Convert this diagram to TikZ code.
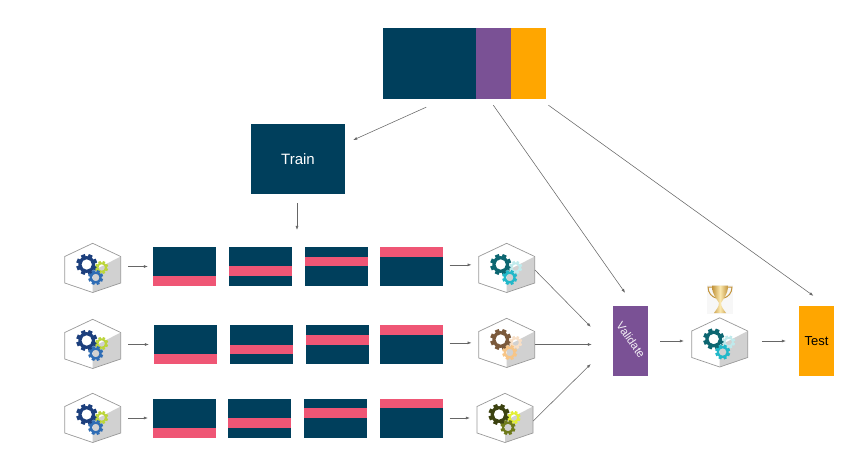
\documentclass[tikz,border=0pt]{standalone}
\usepackage{fontspec}
\setmainfont{Liberation Sans}
\usetikzlibrary{arrows.meta}
\definecolor{navy}{HTML}{003F5C}
\definecolor{plum}{HTML}{7A5195}
\definecolor{amber}{HTML}{FFA600}
\definecolor{rose}{HTML}{EF5675}
\definecolor{arrgray}{HTML}{666666}
\definecolor{gold}{HTML}{C2933A}
\definecolor{goldlight}{HTML}{FBE9B0}
\definecolor{gearnavy}{HTML}{1C3F7D}
\definecolor{gearlime}{HTML}{BCD53A}
\definecolor{gearblue}{HTML}{2F6DB5}
\definecolor{gearteal}{HTML}{0D6671}
\definecolor{gearpale}{HTML}{BFEAEC}
\definecolor{gearcyan}{HTML}{22B8C9}
\definecolor{gearbrown}{HTML}{7B5A3C}
\definecolor{gearcream}{HTML}{F8DFC6}
\definecolor{gearpeach}{HTML}{F7C587}
\definecolor{geardark}{HTML}{3C4210}
\definecolor{gearyellow}{HTML}{E3EF35}
\definecolor{gearolive}{HTML}{6E7A1B}
\newcommand{\gear}[4]{%
 \begin{scope}[shift={(#1,#2)}]
 \fill[#4,even odd rule] (0,0) circle[radius={.8*#3}] (0,0) circle[radius={.5*#3}];
 \foreach \a in {0,45,...,315} \fill[#4,rotate=\a+22] ({.7*#3},{-.2*#3}) rectangle ({#3},{.2*#3});
 \end{scope}}
\newcommand{\model}[6]{%
 \node[hexbox] (#1) at (#2,#3) {};
 \begin{scope}[shift={(#2,#3)}]
 \fill[white] (0,-24.7)--(28,-11.5)--(28,15)--(0,24.5)--(-28,15)--(-28,-11.5)--cycle;
 \fill[hexface] (28,-11.5)--(28,15)--(0,24.5)--(0,3)--cycle;
 \draw[hexedge] (0,-24.7)--(28,-11.5)--(28,15)--(0,24.5)--(-28,15)--(-28,-11.5)--cycle;
 \gear{-6}{-3.5}{10.5}{#4}
 \gear{9}{-.5}{6.5}{#5}
 \gear{3}{9.5}{7.5}{#6}
 \end{scope}}
\newcommand{\fold}[4]{%
 \node[foldbox] (#1) at (#2,#3) {};
 \fill[rose] (#2-31.5,{#3+9.75-9.75*#4}) rectangle (#2+31.5,{#3+19.5-9.75*#4});}
\begin{document}
\begin{tikzpicture}[x=1pt,y=-1pt,
 block/.style={draw=none,minimum width=#1,inner sep=0pt,text=white},
 foldbox/.style={fill=navy,minimum width=63pt,minimum height=39pt,inner sep=0pt},
 hexbox/.style={minimum width=56pt,minimum height=49pt,inner sep=0pt},
 hexface/.style={fill=black!18},
 hexedge/.style={draw=black!40,line width=.7pt},
 arr/.style={-{Latex[length=4pt,width=3pt]},draw=arrgray,line width=.55pt}]
\useasboundingbox (0,0) rectangle (857,465);
% whole data set
\node[block=93pt,minimum height=71pt,fill=navy] (dataTrain) at (429.5,63.5) {};
\node[block=35pt,minimum height=71pt,fill=plum] (dataVal) at (493.5,63.5) {};
\node[block=35pt,minimum height=71pt,fill=amber] (dataTest) at (528.5,63.5) {};
\node[block=94pt,minimum height=70pt,fill=navy,font=\fontsize{15}{18}\selectfont] (train) at (298,159) {Train};
\node[block=35pt,minimum height=70pt,fill=plum] (validate) at (630.5,341) {};
\node[rotate=-55,text=white!90!plum,font=\fontsize{11.5}{14}\selectfont] (validateText) at (631,340) {Validate};
\node[block=35pt,minimum height=70pt,fill=amber,text=black,font=\fontsize{13}{16}\selectfont] (test) at (816.5,341) {Test};
% folds
\fold{fa1}{184.5}{266.5}{0} \fold{fa2}{260.5}{266.5}{1} \fold{fa3}{336.5}{266.5}{2} \fold{fa4}{411.5}{266.5}{3}
\fold{fb1}{185.5}{344.5}{0} \fold{fb2}{261.5}{344.5}{1} \fold{fb3}{337.5}{344.5}{2} \fold{fb4}{411.5}{344.5}{3}
\fold{fc1}{184.5}{418}{0} \fold{fc2}{259.5}{418}{1} \fold{fc3}{335.5}{418}{2} \fold{fc4}{411.5}{418}{3}
% models
\model{ma}{92.7}{268}{gearnavy}{gearlime}{gearblue}
\model{mb}{92.7}{344}{gearnavy}{gearlime}{gearblue}
\model{mc}{92.7}{418}{gearnavy}{gearlime}{gearblue}
\model{ra}{506.7}{268}{gearteal}{gearpale}{gearcyan}
\model{rb}{506.7}{343}{gearbrown}{gearcream}{gearpeach}
\model{rc}{505}{418}{geardark}{gearyellow}{gearolive}
\model{best}{719.7}{342.5}{gearteal}{gearpale}{gearcyan}
% trophy
\node[minimum width=26pt,minimum height=29pt,inner sep=0pt,fill=black!3] (trophy) at (720,299.5) {};
\draw[gold,line width=1pt] (712,287)--(708,287) .. controls (708,293) and (712,297) .. (716,298);
\draw[gold,line width=1pt] (728,287)--(732,287) .. controls (732,293) and (728,297) .. (724,298);
\shade[left color=gold,right color=gold,middle color=goldlight] (712,285.5)--(728,285.5) .. controls (728,295) and (723,299) .. (721,303) .. controls (721,307) and (724,310) .. (726,313)--(714,313) .. controls (716,310) and (719,307) .. (719,303) .. controls (717,299) and (712,295) .. (712,285.5)--cycle;
% arrows
\coordinate (trainEnd) at (297,230);
\draw[arr,shorten <=19.4pt,shorten >=8.8pt] (dataTrain.-68) -- (train.18);
\draw[arr,shorten <=7.3pt,shorten >=15.9pt] (dataVal.-97.5) -- (validate.84.3);
\draw[arr,shorten <=10.3pt,shorten >=17.1pt] (dataTest.-72.5) -- (test.73.5);
\draw[arr,shorten <=9pt] (train.south -| trainEnd) -- (trainEnd);
\foreach \m/\f in {ma/fa1,mb/fb1,mc/fc1} \draw[arr,shorten <=7.5pt,shorten >=5pt] (\m.east |- \f) -- (\f.west);
\foreach \f/\r/\a in {fa4/ra/3,fb4/rb/3,fc4/rc/0} \draw[arr,shorten <=6.5pt,shorten >=7pt] (\f.\a) -- (\f.\a -| \r.west);
\draw[arr,shorten >=31.4pt] (ra.-4) -- (validate.205.6);
\draw[arr,shorten >=21pt] (rb.-3) -- (rb.-3 -| validate.west);
\draw[arr,shorten >=31pt] (rc.-6) -- (validate.184.6);
\draw[arr,shorten <=12pt,shorten >=7.7pt] (validate.east) -- (validate.east -| best.west);
\draw[arr,shorten <=14pt,shorten >=13pt] (best.east |- test.west) -- (test.west);
\end{tikzpicture}
\end{document}
